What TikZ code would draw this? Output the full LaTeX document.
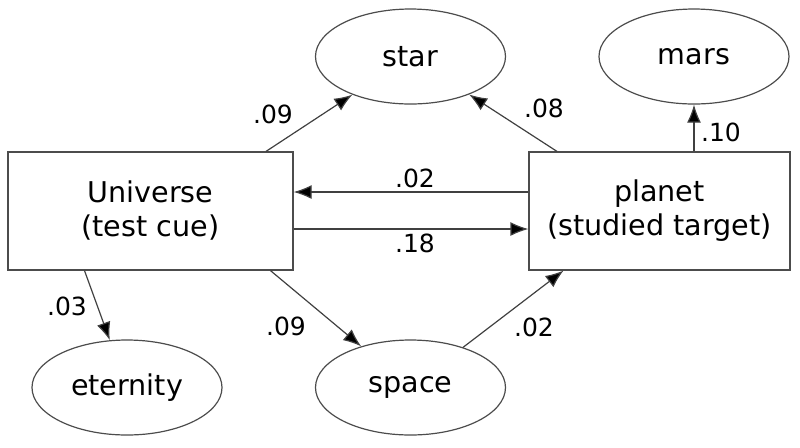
\documentclass[tikz,border=0pt]{standalone}
\usepackage{fontspec}
\setmainfont{DejaVu Sans}
\usetikzlibrary{arrows.meta,shapes.geometric}

\tikzset{
  box/.style={rectangle,draw=black!70,line width=0.6pt,minimum width=142.5pt,minimum height=59pt,align=center,font=\fontsize{14.3}{17}\selectfont},
  blob/.style={ellipse,draw=black!70,line width=0.6pt,minimum width=95pt,minimum height=47.5pt,inner sep=0pt,font=\fontsize{14.3}{17}\selectfont},
  wt/.style={font=\fontsize{12.5}{15}\selectfont,inner sep=0pt},
  link/.style={-{Latex[length=9pt,width=7pt,fill=black]},draw=black!75,line width=0.6pt}
}

\begin{document}
\begin{tikzpicture}[x=0.5pt,y=-0.5pt]
				\useasboundingbox (0,0) rectangle (800,447);
				\node(U) at (150.5,211)[box]{Universe\\(test cue)};
				\node(P) at (659.5,211)[box,minimum width=130.5pt]{planet\\(studied target)};
				\node(star) at (410.5,56.5)[blob]{star};
				\node(mars) at (694,56.5)[blob]{mars};
				\node(eternity) at (127,387.5)[blob]{eternity};
				\node(space) at (410.5,387.5)[blob]{space};
				% edges
				\draw[link] ([xshift=57.75pt]U.north) -- (star);
				\draw[link] ([xshift=-51.25pt]P.north) -- (star);
				\draw[link] (P.north -| mars.south) -- (mars.south);
				\draw[link] ([yshift=9.5pt]P.west) -- ([yshift=9.5pt]U.east);
				\draw[link] ([yshift=-9pt]U.east) -- ([yshift=-9pt]P.west);
				\draw[link] ([xshift=-33pt]U.south) -- (eternity);
				\draw[link] ([xshift=60pt]U.south) -- (space);
				\draw[link] (space) -- ([xshift=-48pt]P.south);
				% weights
				\node(w1) at (273,114)[wt]{.09};
				\node(w2) at (544,108)[wt]{.08};
				\node(w3) at (721,132)[wt]{.10};
				\node(w4) at (415,178)[wt]{.02};
				\node(w5) at (415,243)[wt]{.18};
				\node(w6) at (67,306)[wt]{.03};
				\node(w7) at (286,326)[wt]{.09};
				\node(w8) at (534,327)[wt]{.02};
			\end{tikzpicture}
\end{document}
